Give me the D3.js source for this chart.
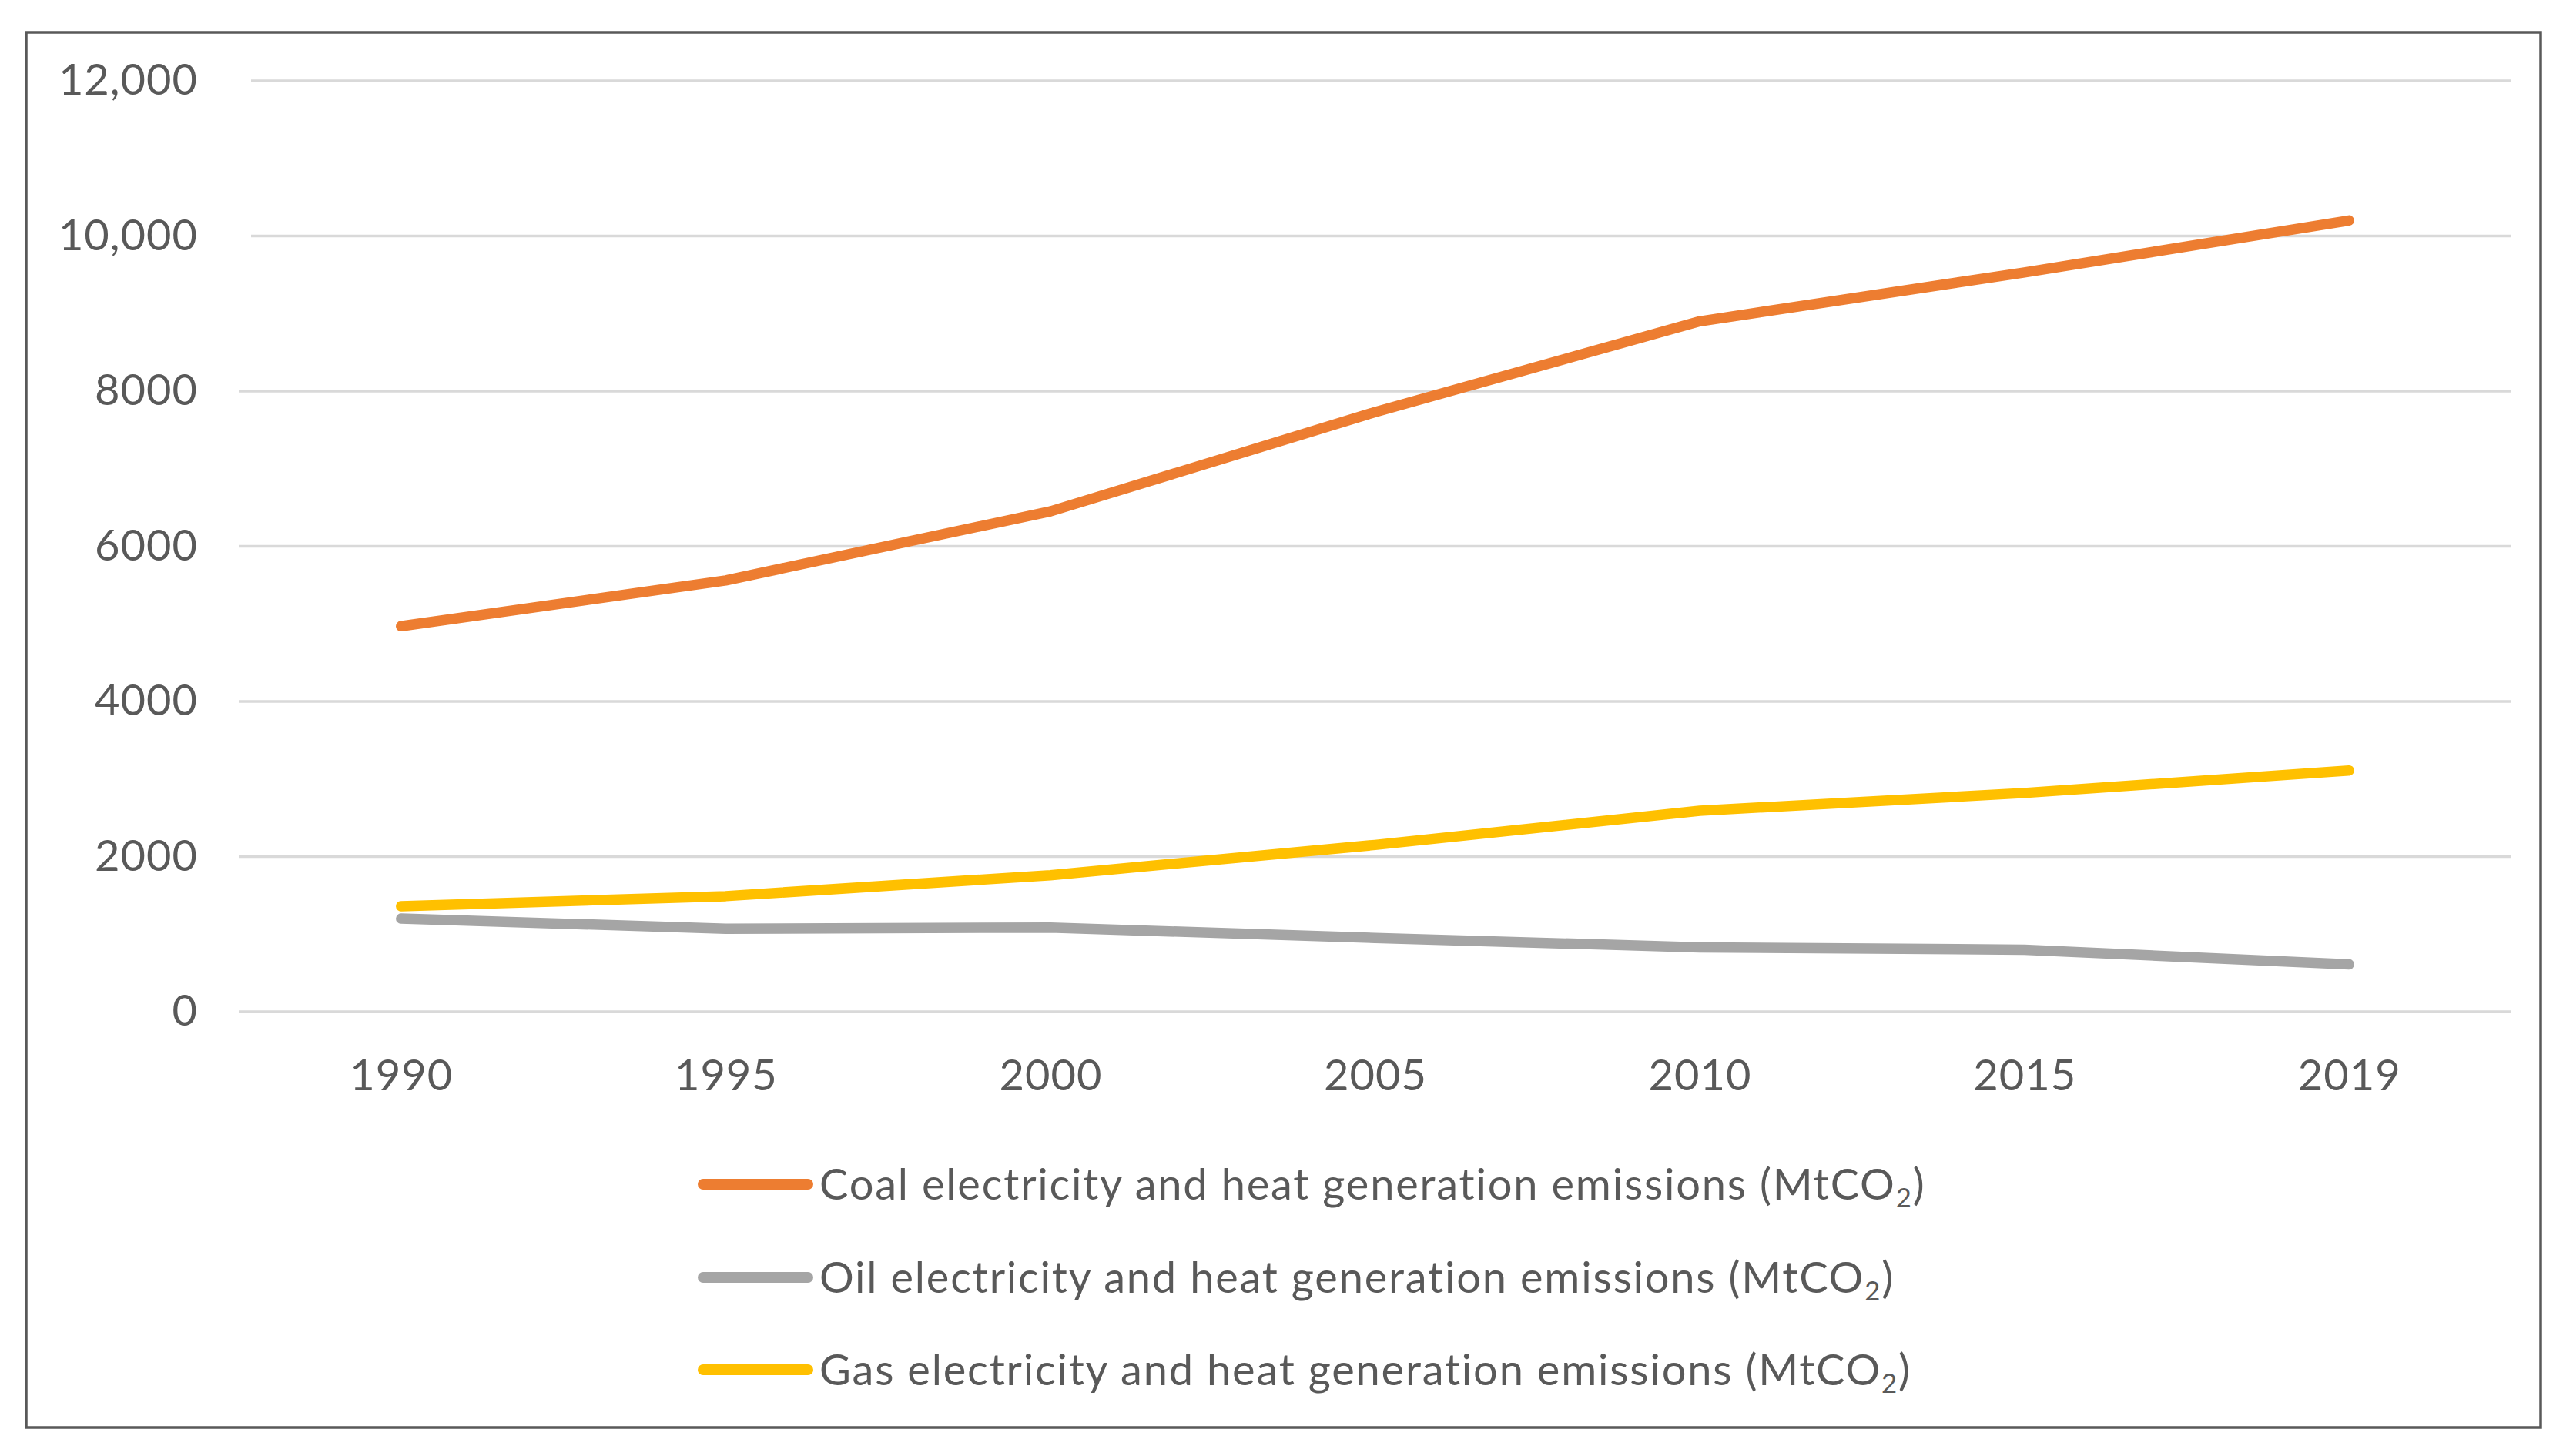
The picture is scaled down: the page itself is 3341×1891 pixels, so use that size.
<!DOCTYPE html>
<html lang="en">
<head>
  <meta charset="UTF-8" />
  <title>Electricity and heat generation emissions</title>
  <script src="https://d3js.org/d3.v7.min.js"></script>
  <style>
    html, body {
      margin: 0;
      background: #ffffff;
      font-family: Lato, "Open Sans", sans-serif;
    }
    svg {
      display: block;
    }
    .tick text {
      fill: #595959;
      font-family: Lato, "Open Sans", sans-serif;
      font-size: 56px;
      letter-spacing: 1px;
    }
    .grid line {
      stroke: #d9d9d9;
      stroke-width: 3.5;
    }
    .series {
      fill: none;
      stroke-width: 13.5;
      stroke-linecap: round;
      stroke-linejoin: round;
    }
    .legend text {
      fill: #595959;
      font-family: Lato, "Open Sans", sans-serif;
      font-size: 56px;
      letter-spacing: 1.8px;
    }
  </style>
</head>
<body>
  <svg id="chart" width="3341" height="1891"></svg>
  <script>
    // data (MtCO2)
    const years = ["1990", "1995", "2000", "2005", "2010", "2015", "2019"];
    const coal = [4970, 5560, 6450, 7730, 8900, 9530, 10200];
    const oil = [1200, 1070, 1085, 950, 830, 800, 610];
    const gas = [1360, 1490, 1760, 2150, 2590, 2820, 3110];

    const yTicks = [0, 2000, 4000, 6000, 8000, 10000, 12000];
    const yTickLabels = ["0", "2000", "4000", "6000", "8000", "10,000", "12,000"];

    const seriesNames = ["Coal", "Oil", "Gas"];
    const seriesColors = ["#ED7D31", "#A5A5A5", "#FFC000"];
    const seriesValues = [coal, oil, gas];

    const width = 3341;
    const height = 1891;
    const plot = { left: 310, right: 3261, top: 105, bottom: 1314 };

    const svg = d3.select("#chart");

    // outer chart border
    svg.append("rect")
      .attr("x", 34)
      .attr("y", 42)
      .attr("width", 3299 - 34)
      .attr("height", 1854 - 42)
      .attr("fill", "#ffffff")
      .attr("stroke", "#595959")
      .attr("stroke-width", 3.5);

    const x = d3.scalePoint()
      .domain(years)
      .range([plot.left, plot.right])
      .padding(0.5);

    const y = d3.scaleLinear()
      .domain([0, 12000])
      .range([plot.bottom, plot.top]);

    // horizontal gridlines (the two top ones start a bit further right in the original)
    svg.append("g")
      .attr("class", "grid")
      .selectAll("line")
      .data(yTicks)
      .enter().append("line")
      .attr("x1", d => d >= 10000 ? plot.left + 16 : plot.left)
      .attr("x2", plot.right)
      .attr("y1", d => y(d))
      .attr("y2", d => y(d));

    // y axis labels
    const yAxis = svg.append("g")
      .attr("transform", `translate(${plot.left},0)`)
      .call(d3.axisLeft(y)
        .tickValues(yTicks)
        .tickFormat((d, i) => yTickLabels[i])
        .tickSize(0)
        .tickPadding(53));
    yAxis.attr("font-family", null).attr("font-size", null);
    yAxis.select(".domain").remove();

    // x axis labels
    const xAxis = svg.append("g")
      .attr("transform", `translate(0,${plot.bottom})`)
      .call(d3.axisBottom(x)
        .tickSize(0)
        .tickPadding(62));
    xAxis.attr("font-family", null).attr("font-size", null);
    xAxis.select(".domain").remove();

    const line = d3.line()
      .x((d, i) => x(years[i]))
      .y(d => y(d));

    svg.selectAll(".series")
      .data(seriesValues)
      .enter().append("path")
      .attr("class", "series")
      .attr("stroke", (d, i) => seriesColors[i])
      .attr("d", line);

    // legend
    const legend = svg.append("g").attr("class", "legend");
    const legendY = [1538, 1659, 1779];

    seriesNames.forEach(function(name, i) {
      const row = legend.append("g").attr("transform", `translate(0,${legendY[i]})`);
      row.append("line")
        .attr("x1", 913)
        .attr("x2", 1049)
        .attr("y1", 0)
        .attr("y2", 0)
        .attr("stroke", seriesColors[i])
        .attr("stroke-width", 14)
        .attr("stroke-linecap", "round");
      const t = row.append("text")
        .attr("x", 1064)
        .attr("y", 0)
        .attr("dy", "0.35em");
      t.append("tspan").text(name + " electricity and heat generation emissions (MtCO");
      t.append("tspan").attr("font-size", "0.62em").attr("dy", "0.3em").text("2");
      t.append("tspan").attr("dy", "-0.18em").text(")");
    });
  </script>
</body>
</html>
